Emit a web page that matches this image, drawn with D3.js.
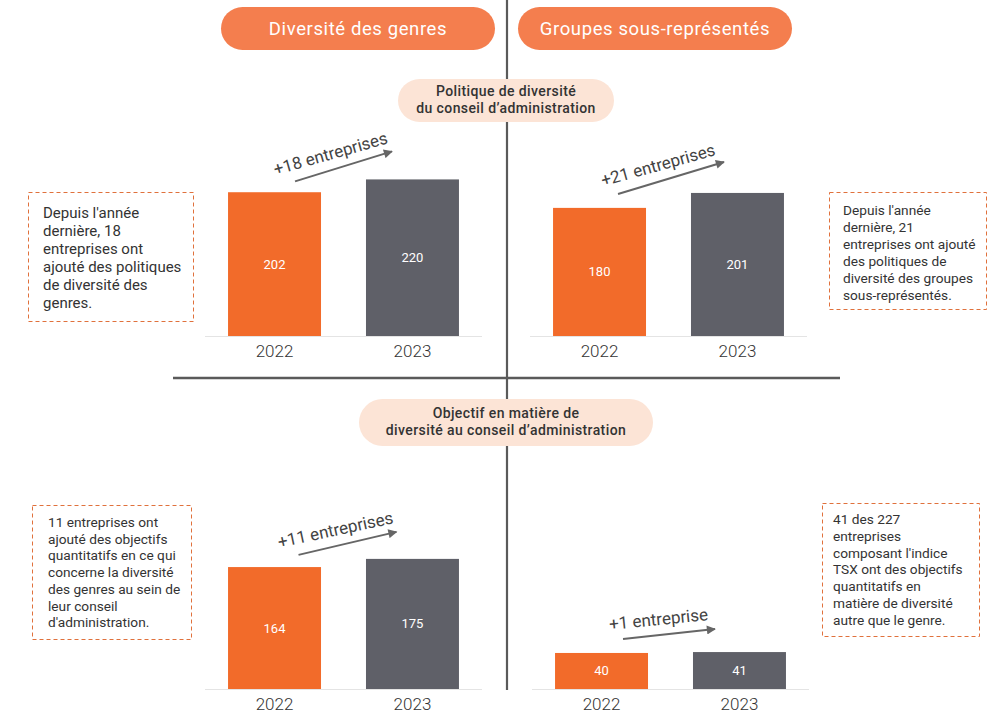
<!DOCTYPE html>
<html><head><meta charset="utf-8">
<script src="https://cdn.jsdelivr.net/npm/d3@7"></script>
<style>
html,body{margin:0;padding:0;background:#fff;}
svg{display:block;font-family:Roboto,"Noto Sans",sans-serif;}
</style></head>
<body>
<svg id="chart" width="994" height="722"></svg>
<script>
// ---- data ----
const years = ["2022", "2023"];
const genderPolicy = [202, 220];
const groupPolicy = [180, 201];
const genderTarget = [164, 175];
const groupTarget = [40, 41];
const changeLabels = ["+18 entreprises", "+21 entreprises", "+11 entreprises", "+1 entreprise"];
const headers = ["Diversité des genres", "Groupes sous-représentés"];
const sectionTitles = [
  ["Politique de diversité", "du conseil d’administration"],
  ["Objectif en matière de", "diversité au conseil d’administration"]
];
const notes = [
  ["Depuis l'année", "dernière, 18", "entreprises ont", "ajouté des politiques", "de diversité des", "genres."],
  ["Depuis l'année", "dernière, 21", "entreprises ont ajouté", "des politiques de", "diversité des groupes", "sous-représentés."],
  ["11 entreprises ont", "ajouté des objectifs", "quantitatifs en ce qui", "concerne la diversité", "des genres au sein de", "leur conseil", "d'administration."],
  ["41 des 227", "entreprises", "composant l'indice", "TSX ont des objectifs", "quantitatifs en", "matière de diversité", "autre que le genre."]
];

// ---- styles / layout ----
const C = {
  orange: "#F26B2A", gray: "#5F6068", pill: "#F47E4E", pillLight: "#FCE4D6",
  divider: "#5a5a5a", base: "#e4e4e4", text: "#333", dash: "#E0713C", arrow: "#666"
};
const panels = [
  {values: genderPolicy, label: changeLabels[0], x0: 205, x1: 482, base: 336, yMax: 281, as: [20.5, 2], ae: [-20.5, -28]},
  {values: groupPolicy, label: changeLabels[1], x0: 530, x1: 807, base: 336, yMax: 281, as: [18.5, 1], ae: [-13.5, -31]},
  {values: genderTarget, label: changeLabels[2], x0: 205, x1: 482, base: 689, yMax: 269, as: [24, -4], ae: [-16, -27]},
  {values: groupTarget, label: changeLabels[3], x0: 532, x1: 809, base: 689, yMax: 222, as: [21.5, -13], ae: [-24.5, -23]}
];
const noteBoxes = [
  {x: 28, y: 192, w: 165, h: 129, tx: 43, ty: 218, lh: 18, fs: 15},
  {x: 829, y: 192, w: 157, h: 117, tx: 843, ty: 215, lh: 17, fs: 13.7},
  {x: 32, y: 505, w: 159, h: 134, tx: 48, ty: 527, lh: 16.7, fs: 13.7},
  {x: 822, y: 503, w: 157, h: 133, tx: 833, ty: 524, lh: 16.8, fs: 13.7}
];

const svg = d3.select("#chart");
const defs = svg.append("defs");
defs.append("marker").attr("id", "ah").attr("viewBox", "0 0 10 10")
  .attr("refX", 9).attr("refY", 5).attr("markerWidth", 11).attr("markerHeight", 9)
  .attr("markerUnits", "userSpaceOnUse").attr("orient", "auto")
  .append("path").attr("d", "M0,0 L10,5 L0,10 Z").attr("fill", C.arrow);

// dividers
svg.append("line").attr("x1", 507).attr("x2", 507).attr("y1", 0).attr("y2", 690)
  .attr("stroke", C.divider).attr("stroke-width", 2.2);
svg.append("line").attr("x1", 173).attr("x2", 840).attr("y1", 378).attr("y2", 378)
  .attr("stroke", C.divider).attr("stroke-width", 2.5);

// header pills
[[221, 495], [518, 792]].forEach((p, i) => {
  svg.append("rect").attr("x", p[0]).attr("y", 7).attr("width", p[1] - p[0]).attr("height", 43)
    .attr("rx", 21.5).attr("fill", C.pill);
  svg.append("text").attr("x", (p[0] + p[1]) / 2).attr("y", 34.5).attr("text-anchor", "middle")
    .attr("fill", "#fff").attr("font-size", 18.5).attr("font-weight", 400)
    .attr("letter-spacing", 0.6).text(headers[i]);
});

// section pills
[{x0: 398, x1: 614, y: 79, h: 43, l1: 96, l2: 113}, {x0: 359, x1: 653, y: 399, h: 47, l1: 418, l2: 435}]
  .forEach((p, i) => {
    svg.append("rect").attr("x", p.x0).attr("y", p.y).attr("width", p.x1 - p.x0).attr("height", p.h)
      .attr("rx", p.h / 2).attr("fill", C.pillLight);
    [p.l1, p.l2].forEach((yy, j) => svg.append("text").attr("x", (p.x0 + p.x1) / 2).attr("y", yy)
      .attr("text-anchor", "middle").attr("fill", C.text).attr("font-size", 14)
      .attr("letter-spacing", 0.4).attr("font-weight", 500).text(sectionTitles[i][j]));
  });

// bar panels
panels.forEach(p => {
  const x = d3.scaleBand().domain(years).range([p.x0, p.x1]).paddingInner(0.326).paddingOuter(0.167);
  const y = d3.scaleLinear().domain([0, p.yMax]).range([p.base, p.base - 200]);
  const g = svg.append("g");
  g.append("line").attr("x1", p.x0).attr("x2", p.x1).attr("y1", p.base + 0.5).attr("y2", p.base + 0.5)
    .attr("stroke", C.base).attr("stroke-width", 1);
  const data = years.map((yr, i) => ({yr, v: p.values[i], i}));
  g.selectAll("rect.bar").data(data).join("rect").attr("class", "bar")
    .attr("x", d => x(d.yr)).attr("width", x.bandwidth())
    .attr("y", d => y(d.v)).attr("height", d => y(0) - y(d.v))
    .attr("fill", d => d.i === 0 ? C.orange : C.gray);
  g.selectAll("text.val").data(data).join("text").attr("class", "val")
    .attr("x", d => x(d.yr) + x.bandwidth() / 2).attr("y", d => (y(d.v) + y(0)) / 2 + 4.5)
    .attr("text-anchor", "middle").attr("fill", "#fff").attr("font-size", 13).text(d => d.v);
  // x axis labels
  const ax = g.append("g").attr("transform", `translate(0,${p.base})`)
    .call(d3.axisBottom(x).tickSize(0).tickPadding(9));
  ax.select(".domain").remove();
  ax.selectAll("text").attr("font-size", 17).attr("fill", C.text).attr("font-family", "Roboto").attr("font-weight", 300);
  // arrow annotation
  const c0 = x(years[0]) + x.bandwidth() / 2, c1 = x(years[1]) + x.bandwidth() / 2;
  const top = y(p.values[1]);
  const sx = c0 + p.as[0], sy = top + p.as[1], ex = c1 + p.ae[0], ey = top + p.ae[1];
  g.append("line").attr("x1", sx).attr("y1", sy).attr("x2", ex).attr("y2", ey)
    .attr("stroke", C.arrow).attr("stroke-width", 2).attr("marker-end", "url(#ah)");
  const ang = Math.atan2(ey - sy, ex - sx) * 180 / Math.PI;
  const mx = (sx + ex) / 2, my = (sy + ey) / 2;
  g.append("text").attr("transform", `translate(${mx},${my}) rotate(${ang * 0.92})`)
    .attr("x", -9).attr("y", -10).attr("text-anchor", "middle").attr("fill", "#444")
    .attr("font-size", 17).attr("font-weight", 400).text(p.label);
});

// note boxes
noteBoxes.forEach((b, i) => {
  svg.append("rect").attr("x", b.x + 0.5).attr("y", b.y + 0.5).attr("width", b.w).attr("height", b.h)
    .attr("fill", "none").attr("stroke", C.dash).attr("stroke-width", 1).attr("stroke-dasharray", "4,3");
  const t = svg.append("text").attr("fill", C.text).attr("font-size", b.fs);
  notes[i].forEach((line, j) => t.append("tspan").attr("x", b.tx).attr("y", b.ty + j * b.lh).text(line));
});
</script>
</body></html>
